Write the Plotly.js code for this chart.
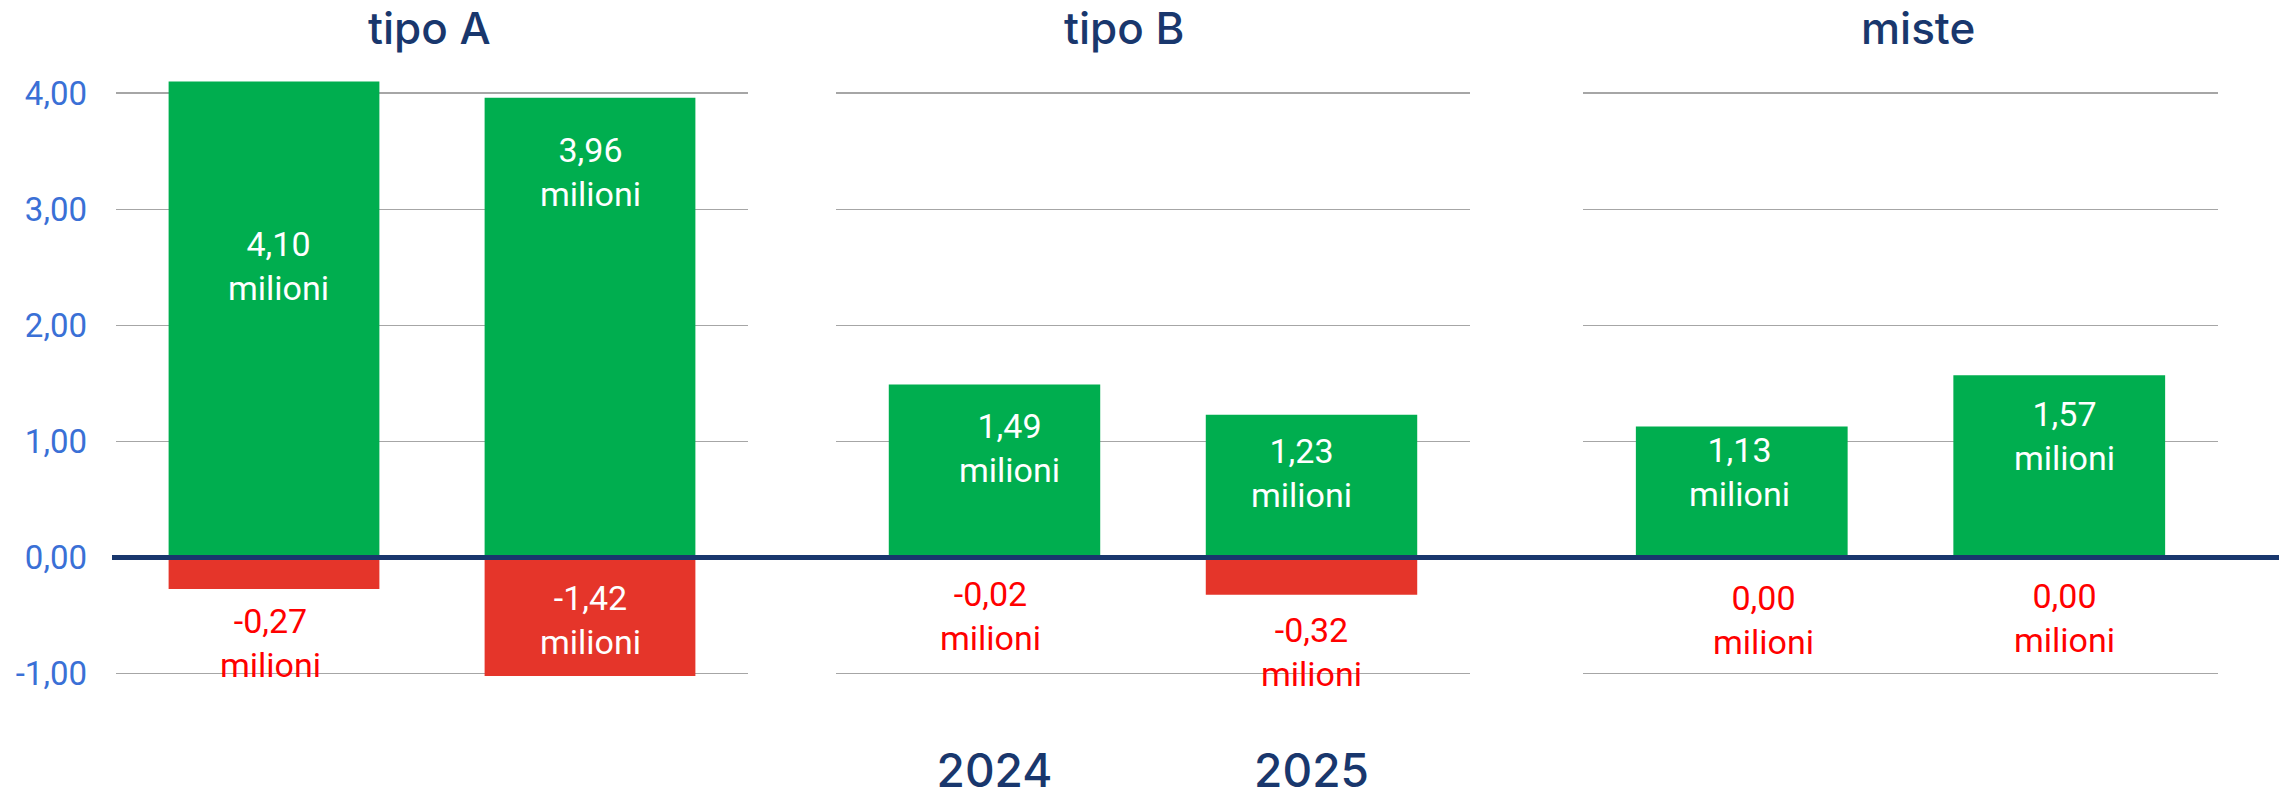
<!DOCTYPE html>
<html><head><meta charset="utf-8">
<script src="https://cdn.plot.ly/plotly-3.0.1.min.js"></script>
<style>html,body{margin:0;padding:0;background:#fff;} #chart{width:2279px;height:800px;}</style>
</head><body><div id="chart"></div>
<script>
// ---------- data ----------
const years = ['2024', '2025'];
const groups = ['tipo A', 'tipo B', 'miste'];
const positiveA = [4.10, 3.96];
const negativeA = [-0.27, -1.42];
const positiveB = [1.49, 1.23];
const negativeB = [-0.02, -0.32];
const positiveM = [1.13, 1.57];
const negativeM = [0.00, 0.00];
const yTickVals = [-1, 0, 1, 2, 3, 4];
const unitLabel = 'milioni';

// ---------- layout helpers (label placement, not data) ----------
const posLabelY = [[2.51, 3.32], [0.94, 0.73], [0.74, 1.05]];
const negLabelY = [[-0.74, -0.54], [-0.50, -0.81], [-0.54, -0.52]];
const posLabelDx = [[4, 0], [15, -10], [-2, 5]];
const negLabelDx = [[-4, 0], [-4, 0], [22, 5]];
const titleX = [0.1885, 0.4930, 0.8418];
const domains = [[116 / 2279, 748 / 2279], [836 / 2279, 1470 / 2279], [1583 / 2279, 2218 / 2279]];

const GREEN = '#00AE4F', RED = '#E5352A', NAVY = '#19376D', BLUE = '#3A70D6', LABEL_RED = '#FF0000';
const FONT = 'Roboto, Arial, sans-serif';
const HEAD_FONT = 'Inter, Roboto, Arial, sans-serif';

const positives = [positiveA, positiveB, positiveM];
const negatives = [negativeA, negativeB, negativeM];
const fmt = v => v.toFixed(2).replace('.', ',');

const data = [];
const annotations = [];
groups.forEach((g, i) => {
  const sfx = i === 0 ? '' : String(i + 1);
  data.push({type: 'bar', x: years, y: positives[i], xaxis: 'x' + sfx, yaxis: 'y' + sfx,
    marker: {color: GREEN}, hoverinfo: 'skip'});
  data.push({type: 'bar', x: years, y: negatives[i], xaxis: 'x' + sfx, yaxis: 'y' + sfx,
    marker: {color: RED}, hoverinfo: 'skip'});
  years.forEach((yr, j) => {
    // category axes: annotation x given as the category index
    annotations.push({xref: 'x' + sfx, yref: 'y' + sfx, x: j, y: posLabelY[i][j],
      xshift: posLabelDx[i][j], xanchor: 'center', yanchor: 'middle', showarrow: false,
      text: fmt(positives[i][j]) + '<br>' + unitLabel,
      font: {family: FONT, size: 34, color: '#FFFFFF'}});
    const nv = negatives[i][j], ly = negLabelY[i][j];
    const inside = ly > nv && ly < 0;
    annotations.push({xref: 'x' + sfx, yref: 'y' + sfx, x: j, y: ly,
      xshift: negLabelDx[i][j], xanchor: 'center', yanchor: 'middle', showarrow: false,
      text: fmt(nv) + '<br>' + unitLabel,
      font: {family: FONT, size: 34, color: inside ? '#FFFFFF' : LABEL_RED}});
  });
  annotations.push({xref: 'paper', yref: 'paper', x: titleX[i], y: 1.069,
    xanchor: 'center', yanchor: 'middle',
    showarrow: false, text: g, font: {family: HEAD_FONT, size: 44, weight: 500, color: NAVY}});
});

const layout = {
  width: 2279, height: 800,
  margin: {l: 0, r: 0, t: 70, b: 124, pad: 0},
  paper_bgcolor: '#FFFFFF', plot_bgcolor: 'rgba(0,0,0,0)',
  barmode: 'relative', bargap: 0.333, showlegend: false,
  font: {family: FONT},
  annotations: annotations,
  shapes: [{type: 'line', xref: 'paper', yref: 'y', x0: 112 / 2279, x1: 1, y0: 0, y1: 0,
    line: {color: NAVY, width: 5}, layer: 'above'}]
};
groups.forEach((g, i) => {
  const sfx = i === 0 ? '' : String(i + 1);
  layout['xaxis' + sfx] = {domain: domains[i], anchor: 'y' + sfx, type: 'category',
    range: [-0.5, 1.5], showgrid: false, zeroline: false, showline: false, ticks: '',
    showticklabels: i === 1, tickfont: {family: HEAD_FONT, size: 46, weight: 500, color: NAVY},
    ticklabelstandoff: 64, fixedrange: true};
  layout['yaxis' + sfx] = {anchor: 'x' + sfx, range: [-1.02, 4.2], tickmode: 'array',
    tickvals: yTickVals, ticktext: yTickVals.map(fmt), showgrid: true, gridcolor: '#A6A6A6',
    gridwidth: 1.5, zeroline: false, showline: false, ticks: '',
    showticklabels: i === 0, tickfont: {family: FONT, size: 33, color: BLUE},
    ticklabelstandoff: 28, fixedrange: true};
});

Plotly.newPlot('chart', data, layout, {displayModeBar: false, staticPlot: true});
</script>
</body></html>
